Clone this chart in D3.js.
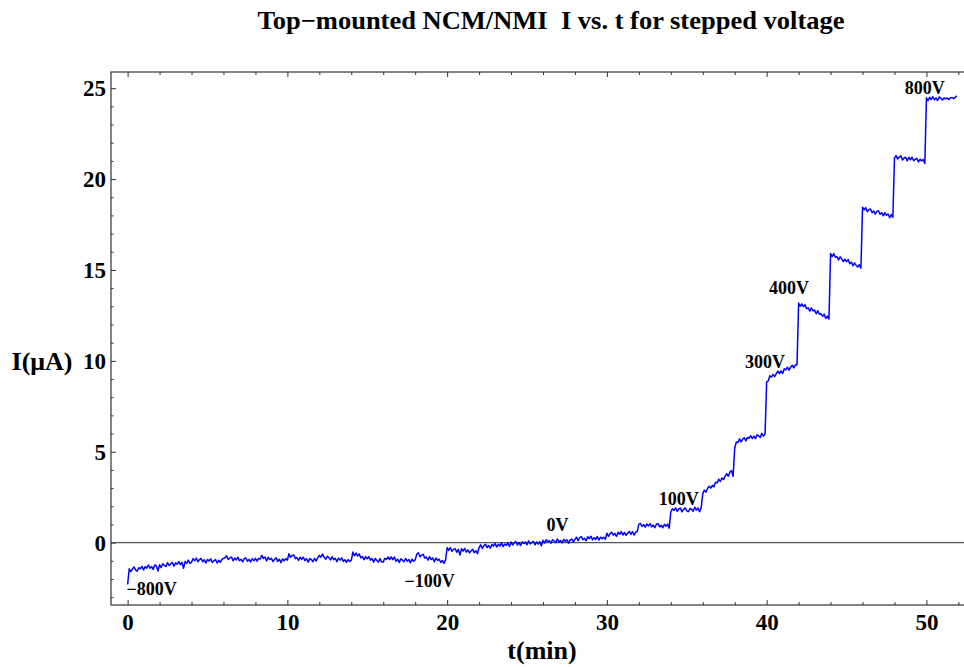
<!DOCTYPE html>
<html>
<head>
<meta charset="utf-8">
<script src="https://cdn.jsdelivr.net/npm/d3@7"></script>
<style>
  body { margin: 0; background: #fff; }
  svg { display: block; }
  text { font-family: "Liberation Serif", "Times New Roman", serif; font-weight: bold; fill: #000; }
</style>
</head>
<body>
<svg id="chart" width="964" height="667"></svg>
<script>
// ---- data ---------------------------------------------------------------
const titleText = "Top\u2212mounted NCM/NMI  I vs. t for stepped voltage";
const xLabel = "t(min)";
const yLabel = "I(\u03bcA)";

// current readings, one sample every 0.1 min, one row per 2-minute voltage step
const sampleStartMin = 0;
const sampleStepMin = 0.1;
const currentUA = [
  -2.30,-1.44,-1.59,-1.45,-1.34,-1.50,-1.57,-1.38,-1.44,-1.30,-1.50,-1.31,-1.41,-1.23,-1.41,-1.32,-1.47,-1.23,-1.28,-1.56,
  -1.22,-1.37,-1.16,-1.25,-1.31,-1.10,-1.26,-1.17,-1.09,-1.30,-1.11,-1.18,-1.04,-1.21,-1.09,-1.41,-1.03,-1.14,-0.96,-1.14,
  -1.08,-0.88,-0.99,-0.85,-1.05,-0.93,-0.87,-1.05,-0.94,-1.12,-0.93,-1.01,-0.89,-1.09,-1.00,-0.93,-1.12,-0.97,-1.08,-0.92,
  -0.87,-0.83,-0.72,-0.93,-0.84,-0.79,-1.00,-0.85,-0.95,-0.80,-0.99,-0.91,-1.06,-0.87,-0.85,-1.02,-0.92,-1.06,-0.88,-1.00,
  -0.86,-1.02,-0.87,-0.90,-0.70,-0.87,-0.79,-1.01,-0.81,-0.93,-0.86,-1.04,-0.92,-0.84,-1.03,-0.91,-1.10,-0.89,-1.00,-0.88,
  -0.96,-0.61,-0.81,-0.71,-0.68,-0.88,-0.82,-0.98,-0.80,-0.92,-0.80,-0.99,-0.88,-1.07,-0.88,-0.93,-1.05,-0.86,-1.01,-0.84,
  -0.70,-0.80,-0.63,-0.81,-0.91,-0.75,-0.83,-0.95,-0.78,-0.94,-0.86,-1.05,-0.85,-0.96,-0.84,-1.03,-0.94,-1.08,-0.93,-1.04,
  -0.97,-0.52,-0.72,-0.57,-0.74,-0.62,-0.84,-0.77,-0.94,-0.77,-0.89,-0.78,-0.96,-0.87,-1.07,-0.87,-0.98,-1.07,-0.88,-1.06,
  -1.07,-0.86,-0.92,-0.79,-0.93,-0.78,-0.94,-0.79,-1.02,-0.91,-1.09,-0.89,-0.96,-1.05,-0.87,-1.02,-0.93,-1.11,-0.91,-1.02,
  -0.95,-0.64,-0.56,-0.78,-0.69,-0.64,-0.85,-0.79,-0.96,-0.77,-0.93,-0.84,-1.05,-0.84,-0.98,-0.91,-1.09,-0.98,-1.14,-0.96,
  -0.28,-0.43,-0.27,-0.48,-0.37,-0.33,-0.53,-0.37,-0.68,-0.33,-0.46,-0.32,-0.52,-0.40,-0.57,-0.45,-0.37,-0.55,-0.45,-0.61,
  -0.27,-0.12,-0.32,-0.16,-0.09,-0.27,-0.16,-0.30,-0.10,-0.19,-0.04,-0.24,-0.09,-0.19,-0.01,-0.22,-0.08,-0.15,-0.02,-0.21,
   0.04,-0.13,-0.02, 0.06,-0.13, 0.01,-0.16, 0.05,-0.05, 0.03,-0.12, 0.10,-0.07, 0.00, 0.08,-0.12, 0.04,-0.08, 0.05,-0.18,
   0.13,-0.02, 0.17, 0.04, 0.11,-0.03, 0.16, 0.09, 0.01, 0.20, 0.03, 0.11,-0.01, 0.18, 0.07, 0.15,-0.03, 0.14, 0.20, 0.04,
   0.18, 0.30, 0.11, 0.27, 0.33, 0.16, 0.24, 0.10, 0.32, 0.22, 0.35, 0.15, 0.27, 0.18, 0.34, 0.14, 0.30, 0.22, 0.30, 0.19,
   0.52, 0.35, 0.50, 0.57, 0.41, 0.50, 0.34, 0.57, 0.46, 0.61, 0.42, 0.56, 0.40, 0.52, 0.62, 0.45, 0.61, 0.42, 0.57, 0.61,
   1.02, 1.06, 0.89, 0.99, 0.85, 1.03, 0.92, 1.05, 0.86, 0.97, 0.82, 1.01, 1.05, 0.87, 0.95, 0.82, 1.01, 0.90, 1.02, 0.80,
   1.70, 1.86, 1.77, 1.91, 1.72, 1.85, 1.90, 1.69, 1.83, 1.91, 1.75, 1.70, 1.88, 1.84, 1.73, 1.95, 1.79, 1.91, 1.70, 1.91,
   2.70, 2.89, 2.78, 2.98, 3.10, 3.00, 3.15, 3.07, 3.32, 3.29, 3.49, 3.36, 3.56, 3.47, 3.66, 3.79, 3.65, 3.88, 3.97, 3.65,
   5.19, 5.54, 5.51, 5.71, 5.54, 5.70, 5.77, 5.60, 5.79, 5.74, 5.88, 5.72, 5.86, 5.72, 5.93, 5.87, 5.79, 6.01, 5.86, 5.98,
   8.84, 8.90, 9.18, 9.11, 9.26, 9.13, 9.30, 9.44, 9.30, 9.45, 9.31, 9.56, 9.50, 9.65, 9.49, 9.65, 9.76, 9.62, 9.78, 9.78,
  13.18,13.00,13.14,12.98,13.09,12.87,12.92,12.74,12.91,12.75,12.79,12.59,12.76,12.56,12.59,12.45,12.57,12.33,12.46,12.30,
  15.90,15.73,15.90,15.70,15.73,15.55,15.72,15.61,15.46,15.59,15.46,15.57,15.34,15.43,15.23,15.39,15.25,15.16,15.29,15.10,
  18.45,18.30,18.43,18.20,18.32,18.35,18.15,18.24,18.07,18.23,18.26,18.06,18.15,17.98,18.15,18.01,18.08,17.87,18.05,17.90,
  21.15,21.29,21.10,21.21,21.28,21.05,21.16,21.20,21.00,21.20,21.06,21.20,21.01,21.08,21.14,20.94,21.09,21.00,21.08,20.86,
  24.46,24.31,24.50,24.38,24.53,24.36,24.46,24.32,24.52,24.45,24.35,24.46,24.41,24.46,24.37,24.48,24.48,24.43,24.49,24.58
];

// voltage annotations placed in data coordinates (minutes, µA)
const voltageLabels = ["\u2212800V", "\u2212100V", "0V", "100V", "300V", "400V", "800V"];
const voltageLabelT = [1.5, 18.9, 26.9, 34.5, 39.9, 41.4, 49.9];
const voltageLabelI = [-2.55, -2.1, 0.95, 2.4, 9.96, 14.0, 25.0];

// axis ticks
const xMajorTicks = [0, 10, 20, 30, 40, 50];
const xMinorTicks = [2, 4, 6, 8, 12, 14, 16, 18, 22, 24, 26, 28, 32, 34, 36, 38, 42, 44, 46, 48, 52];
const yMajorTicks = [0, 5, 10, 15, 20, 25];
const yMinorTicks = [-3, -2, -1, 1, 2, 3, 4, 6, 7, 8, 9, 11, 12, 13, 14, 16, 17, 18, 19, 21, 22, 23, 24];

// ---- layout -------------------------------------------------------------
const frame = { left: 111, right: 975, top: 72, bottom: 605 };
const svg = d3.select("#chart");

const x = d3.scaleLinear().domain([-1.04, 53.04]).range([frame.left, frame.right]);
const y = d3.scaleLinear().domain([-3.43, 25.89]).range([frame.bottom, frame.top]);

const samples = currentUA.map((v, i) => ({ t: sampleStartMin + i * sampleStepMin, i: v }));

// ---- axes (ticks point inward, as on a framed plot) ---------------------
function styleAxis(g) {
  g.select(".domain").remove();
  g.selectAll("line").attr("stroke", "#333").attr("stroke-width", 1);
  g.selectAll("text")
    .attr("font-family", "Liberation Serif, Times New Roman, serif")
    .attr("font-weight", "bold")
    .attr("font-size", 23)
    .attr("fill", "#000");
}

svg.append("g").attr("transform", `translate(0,${frame.bottom})`)
  .call(d3.axisBottom(x).tickValues(xMajorTicks).tickSize(-5).tickPadding(9).tickFormat(d3.format("d")))
  .call(styleAxis);
svg.append("g").attr("transform", `translate(0,${frame.bottom})`)
  .call(d3.axisBottom(x).tickValues(xMinorTicks).tickSize(-3).tickFormat(""))
  .call(styleAxis);
svg.append("g").attr("transform", `translate(0,${frame.top})`)
  .call(d3.axisTop(x).tickValues(xMajorTicks).tickSize(-5).tickFormat(""))
  .call(styleAxis);
svg.append("g").attr("transform", `translate(0,${frame.top})`)
  .call(d3.axisTop(x).tickValues(xMinorTicks).tickSize(-3).tickFormat(""))
  .call(styleAxis);

svg.append("g").attr("transform", `translate(${frame.left},0)`)
  .call(d3.axisLeft(y).tickValues(yMajorTicks).tickSize(-5).tickPadding(5).tickFormat(d3.format("d")))
  .call(styleAxis);
svg.append("g").attr("transform", `translate(${frame.left},0)`)
  .call(d3.axisLeft(y).tickValues(yMinorTicks).tickSize(-2.5).tickFormat(""))
  .call(styleAxis);
svg.append("g").attr("transform", `translate(${frame.right},0)`)
  .call(d3.axisRight(y).tickValues(yMajorTicks).tickSize(-5).tickFormat(""))
  .call(styleAxis);

// zero axis line
svg.append("line")
  .attr("x1", frame.left).attr("x2", frame.right)
  .attr("y1", y(0)).attr("y2", y(0))
  .attr("stroke", "#555").attr("stroke-width", 1.2);

// frame
svg.append("rect")
  .attr("x", frame.left).attr("y", frame.top)
  .attr("width", frame.right - frame.left).attr("height", frame.bottom - frame.top)
  .attr("fill", "none").attr("stroke", "#333").attr("stroke-width", 1.2);

// current trace
const line = d3.line().x(d => x(d.t)).y(d => y(d.i));
svg.append("path")
  .datum(samples)
  .attr("d", line)
  .attr("fill", "none")
  .attr("stroke", "#0000ff")
  .attr("stroke-width", 1.5)
  .attr("stroke-linejoin", "round");

// voltage annotations
svg.append("g").selectAll("text")
  .data(voltageLabels)
  .join("text")
  .attr("x", (d, i) => x(voltageLabelT[i]))
  .attr("y", (d, i) => y(voltageLabelI[i]))
  .attr("text-anchor", "middle")
  .attr("dominant-baseline", "central")
  .attr("font-size", 18)
  .text(d => d);

// title and axis labels
svg.append("text")
  .attr("x", 551).attr("y", 29)
  .attr("text-anchor", "middle")
  .attr("font-size", 25)
  .attr("textLength", 587)
  .attr("lengthAdjust", "spacingAndGlyphs")
  .style("white-space", "pre")
  .text(titleText);

svg.append("text")
  .attr("x", 542).attr("y", 659)
  .attr("text-anchor", "middle")
  .attr("font-size", 26)
  .text(xLabel);

svg.append("text")
  .attr("x", 42).attr("y", 370)
  .attr("text-anchor", "middle")
  .attr("font-size", 26)
  .text(yLabel);
</script>
</body>
</html>
